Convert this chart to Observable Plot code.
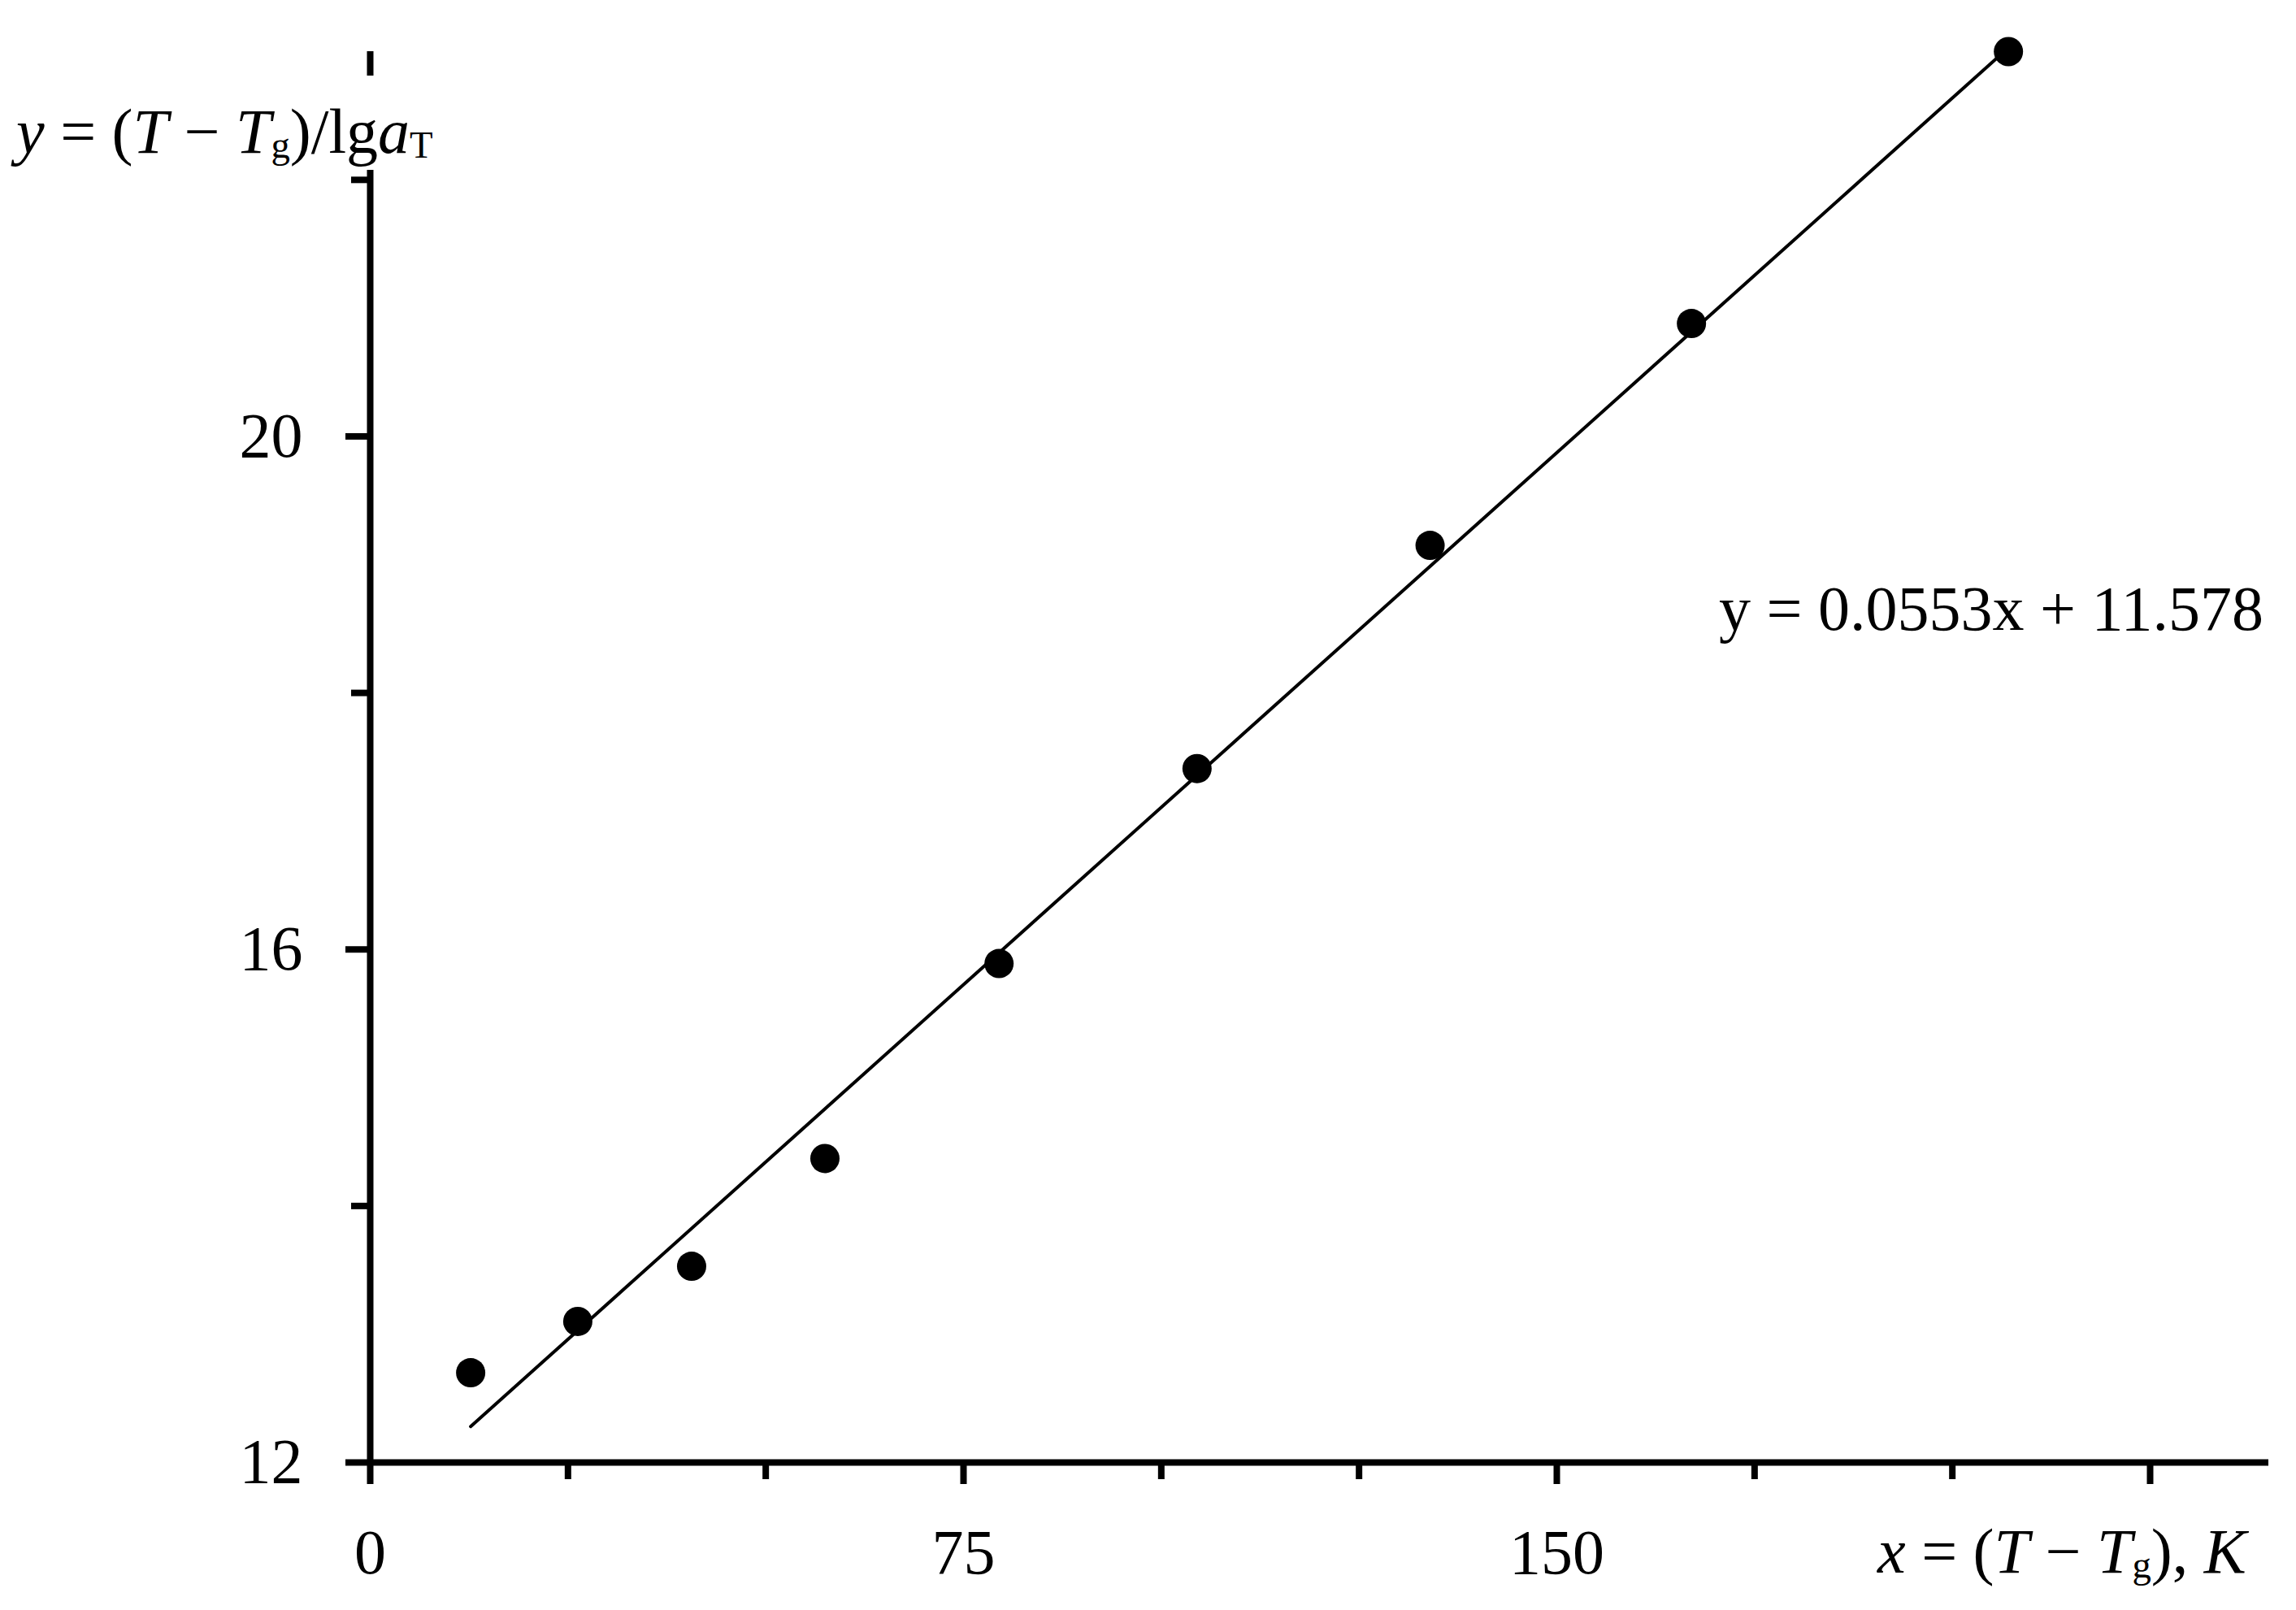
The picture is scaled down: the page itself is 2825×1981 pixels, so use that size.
<!DOCTYPE html>
<html><head><meta charset="utf-8">
<script src="https://cdn.jsdelivr.net/npm/d3@7"></script>
<script src="https://cdn.jsdelivr.net/npm/@observablehq/plot@0.6"></script>
<style>
html,body{margin:0;padding:0;background:#fff;}
#wrap{position:relative;width:2825px;height:1981px;font-family:"Liberation Serif","Times New Roman",serif;color:#000;}
#wrap svg{position:absolute;left:0;top:0;}
.lab{position:absolute;font-size:78px;line-height:78px;white-space:nowrap;z-index:2;}
.lab i{font-style:italic;}
.sub{font-size:0.6em;position:relative;top:0.12em;line-height:0;}
</style></head><body><div id="wrap"></div>
<script>
// data
const xValues = [12.70, 26.24, 40.63, 57.48, 79.49, 104.52, 133.98, 167.02, 207.09];
const yValues = [12.70, 13.10, 13.53, 14.37, 15.89, 17.41, 19.15, 20.88, 23.00];
const trendSlope = 0.0553;
const trendIntercept = 11.578;
const xMajorTicks = [0, 75, 150, 225];
const xTickLabels = [0, 75, 150];
const xMinorTicks = [25, 50, 100, 125, 175, 200];
const yMajorTicks = [12, 16, 20];
const yMinorTicks = [14, 18, 22];
const xDomain = [0, 240];
const yDomain = [12, 23];

const points = xValues.map((x, i) => ({x, y: yValues[i]}));
const trend = d3.extent(xValues).map(x => ({x, y: trendSlope * x + trendIntercept}));
const eqText = `y = ${trendSlope}x + ${trendIntercept}`;

const chart = Plot.plot({
  width: 2825, height: 1981,
  marginLeft: 455, marginRight: 34, marginTop: 63, marginBottom: 182,
  style: {fontFamily: "'Liberation Serif', 'Times New Roman', serif", fontSize: "78px", color: "#000", background: "#fff", overflow: "visible"},
  x: {domain: xDomain},
  y: {domain: yDomain},
  marks: [
    Plot.axisX(xMinorTicks, {tickSize: 21, strokeWidth: 8, tickFormat: () => "", label: null}),
    Plot.axisX(xMajorTicks, {tickSize: 27, strokeWidth: 8, tickPadding: 54, label: null, fontSize: 78,
      tickFormat: d => xTickLabels.includes(d) ? String(d) : ""}),
    Plot.axisY(yMinorTicks, {tickSize: 23, strokeWidth: 8, tickFormat: () => "", label: null}),
    Plot.axisY(yMajorTicks, {tickSize: 30, strokeWidth: 8, tickPadding: 53, label: null, fontSize: 78,
      tickFormat: d => String(d)}),
    Plot.ruleY([yDomain[0]], {strokeWidth: 8, stroke: "#000"}),
    Plot.ruleX([xDomain[0]], {strokeWidth: 8, stroke: "#000"}),
    Plot.line(trend, {x: "x", y: "y", stroke: "#000", strokeWidth: 4}),
    Plot.dot(points, {x: "x", y: "y", r: 18, fill: "#000"})
  ]
});

const wrap = document.getElementById("wrap");
wrap.appendChild(chart);

function addLabel(html, style) {
  const d = document.createElement("div");
  d.className = "lab";
  d.innerHTML = html;
  Object.assign(d.style, style);
  wrap.appendChild(d);
}
addLabel('<i>y</i> = (<i>T</i> − <i>T</i><span class="sub">g</span>)/lg<i>a</i><span class="sub">T</span>',
  {left: "14px", top: "93px", padding: "21px 6px 0 6px", lineHeight: "95px", height: "95px", background: "#fff"});
addLabel('<i>x</i> = (<i>T</i> − <i>T</i><span class="sub">g</span>), <i>K</i>',
  {left: "2310px", top: "1870px"});
addLabel(eqText, {left: "2115px", top: "710px"});
</script>
</body></html>
